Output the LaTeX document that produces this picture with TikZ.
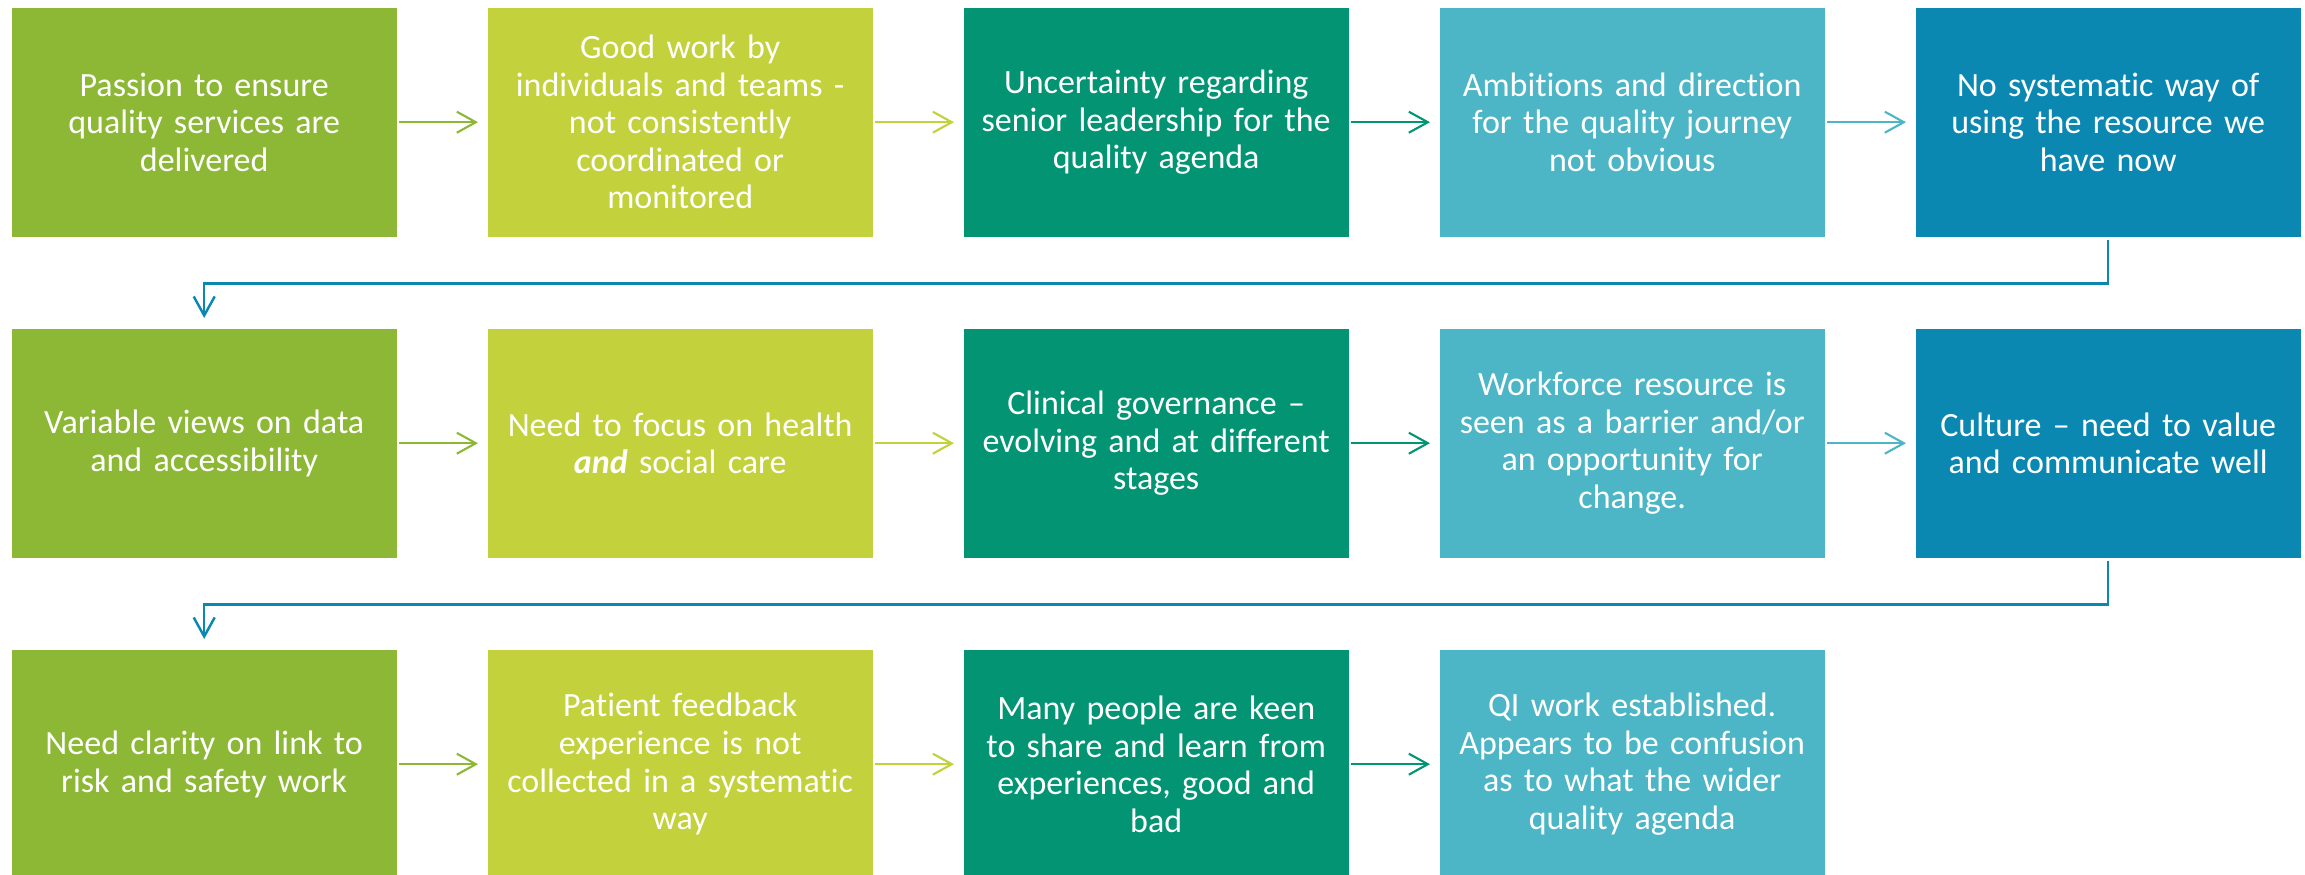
\documentclass[tikz,border=0pt]{standalone}
\usepackage{fontspec}
\setmainfont{Carlito}[Ligatures={TeX,NoCommon}]
\usepackage{tikz}
\usetikzlibrary{arrows.meta, positioning, matrix}

\definecolor{colA}{RGB}{140,184,54}
\definecolor{colB}{RGB}{194,209,60}
\definecolor{colC}{RGB}{3,149,115}
\definecolor{colD}{RGB}{76,181,198}
\definecolor{colE}{RGB}{11,136,178}

\tikzset{
  flowarr/.style={-{Straight Barb[length=1.9mm, width=2.1mm]}, line width=0.6pt,
    shorten <=0.2mm, shorten >=0.9mm},
  turnarr/.style={flowarr, draw=colE, line width=0.7pt, shorten <=0.3mm, shorten >=1mm}
}

\begin{document}
\begin{tikzpicture}
    \useasboundingbox (0,0) rectangle (23.05,8.75);
    \clip (0,0) rectangle (23.05,8.75);
    \matrix (m) [matrix of nodes, anchor=north west, inner sep=0pt,
      nodes={minimum width=3.85cm, minimum height=2.29cm, inner sep=0pt, anchor=center,
        text width=3.6cm, align=center, text=white,
        font=\fontsize{9.67}{10.67}\selectfont},
      row sep=0.92cm,
      column sep=0.91cm,
      column 1/.style={nodes={fill=colA}},
      column 2/.style={nodes={fill=colB}},
      column 3/.style={nodes={fill=colC}},
      column 4/.style={nodes={fill=colD}},
      column 5/.style={nodes={fill=colE}},
      ampersand replacement=\&
      ] at (0.11,8.68) {
      {Passion to ensure\\quality services are\\delivered} \&
      {Good work by\\individuals and teams -\\not consistently\\coordinated or\\monitored} \&
      {Uncertainty regarding\\senior leadership for the\\quality agenda} \&
      {Ambitions and direction\\for the quality journey\\not obvious} \&
      {No systematic way of\\using the resource we\\have now} \\
      {Variable views on data\\and accessibility} \&
      {Need to focus on health\\\textbf{\textit{and}} social care} \&
      {Clinical governance –\\evolving and at different\\stages} \&
      {Workforce resource is\\seen as a barrier and/or\\an opportunity for\\change.} \&
      {Culture – need to value\\and communicate well} \\
      {Need clarity on link to\\risk and safety work} \&
      {Patient feedback\\experience is not\\collected in a systematic\\way} \&
      {Many people are keen\\to share and learn from\\experiences, good and\\bad} \&
      {QI work established.\\Appears to be confusion\\as to what the wider\\quality agenda} \\
    };

    % arrows along each row
    \draw[flowarr, colA] (m-1-1) -- (m-1-2);
    \draw[flowarr, colB] (m-1-2) -- (m-1-3);
    \draw[flowarr, colC] (m-1-3) -- (m-1-4);
    \draw[flowarr, colD] (m-1-4) -- (m-1-5);
    \draw[flowarr, colA] (m-2-1) -- (m-2-2);
    \draw[flowarr, colB] (m-2-2) -- (m-2-3);
    \draw[flowarr, colC] (m-2-3) -- (m-2-4);
    \draw[flowarr, colD] (m-2-4) -- (m-2-5);
    \draw[flowarr, colA] (m-3-1) -- (m-3-2);
    \draw[flowarr, colB] (m-3-2) -- (m-3-3);
    \draw[flowarr, colC] (m-3-3) -- (m-3-4);

    % wrap round to the next row
    \draw[turnarr] (m-1-5.south) -- ++(0,-0.46) -| (m-2-1.north);
    \draw[turnarr] (m-2-5.south) -- ++(0,-0.46) -| (m-3-1.north);
\end{tikzpicture}
\end{document}
